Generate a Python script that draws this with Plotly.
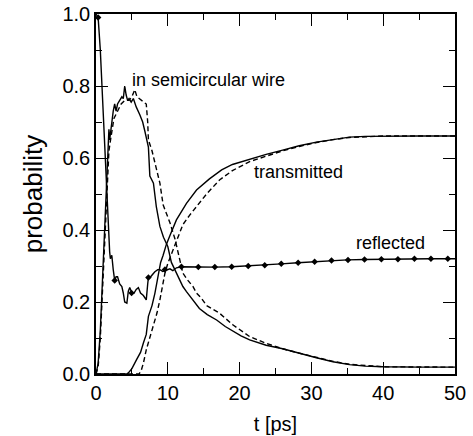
import plotly.graph_objects as go

# ---- data ----
t_wire = [0, 0.3, 0.6, 0.9, 1.2, 1.5, 1.7, 1.8, 1.9, 2.1, 2.4, 2.6, 2.8, 3.0, 3.3, 3.6, 3.8, 4.0,
          4.2, 4.4, 4.6, 4.9, 5.2, 5.6, 6.1, 6.5, 6.8, 7.1, 7.3, 7.5, 7.8, 8.0, 8.4, 8.9, 9.4,
          10.0, 10.5, 11.0, 11.5, 12.1, 12.6, 13.3, 14.4, 15.5, 16.8, 18.0, 19.1, 20.2, 21.4,
          22.5, 23.7, 26.0, 28.3, 30.7, 33.0, 35.3, 37.5, 40.0, 45.0, 50.0]
p_wire = [0.0, 0.03, 0.12, 0.25, 0.38, 0.52, 0.62, 0.68, 0.65, 0.69, 0.73, 0.75, 0.73, 0.75,
          0.76, 0.77, 0.765, 0.80, 0.775, 0.76, 0.765, 0.755, 0.765, 0.742, 0.72, 0.70, 0.675,
          0.65, 0.63, 0.55, 0.54, 0.53, 0.465, 0.41, 0.38, 0.354, 0.31, 0.289, 0.265, 0.243,
          0.229, 0.212, 0.182, 0.165, 0.15, 0.132, 0.118, 0.106, 0.095, 0.087, 0.08, 0.07,
          0.057, 0.045, 0.034, 0.026, 0.022, 0.02, 0.019, 0.019]

t_wire_d = [0, 0.3, 0.6, 0.9, 1.2, 1.5, 1.8, 2.1, 2.5, 3.0, 3.5, 4.0, 4.6, 5.0, 5.4, 5.7, 6.0,
            6.3, 6.7, 7.0, 7.2, 7.3, 7.8, 8.2, 8.9, 9.35, 9.8, 10.3, 11.0, 11.7, 12.1, 12.8,
            13.5, 14.0, 14.7, 15.4, 17.2, 19.1, 21.4, 23.7, 26.0, 28.3, 30.7, 33.0, 35.3, 40.0,
            50.0]
p_wire_d = [0.0, 0.02, 0.1, 0.22, 0.35, 0.48, 0.62, 0.66, 0.71, 0.73, 0.75, 0.76, 0.76, 0.77,
            0.79, 0.77, 0.765, 0.76, 0.755, 0.75, 0.70, 0.65, 0.62, 0.585, 0.53, 0.47, 0.447,
            0.42, 0.375, 0.317, 0.28, 0.26, 0.243, 0.225, 0.21, 0.19, 0.169, 0.136, 0.104,
            0.085, 0.07, 0.058, 0.046, 0.035, 0.027, 0.02, 0.019]

t_trans = [0, 4.3, 4.5, 5.0, 5.65, 6.2, 6.6, 7.0, 7.3, 7.8, 8.2, 8.65, 9.0, 9.35, 9.8, 10.3,
           11.2, 12.6, 14.0, 15.8, 17.5, 19.0, 21.4, 23.7, 26.0, 28.3, 30.7, 33.0, 35.3, 37.5,
           40.0, 45.0, 50.0]
p_trans = [0.0, 0.0, 0.003, 0.015, 0.04, 0.06, 0.086, 0.11, 0.16, 0.19, 0.224, 0.27, 0.31,
           0.33, 0.36, 0.385, 0.428, 0.474, 0.511, 0.542, 0.567, 0.582, 0.597, 0.61, 0.622,
           0.634, 0.644, 0.652, 0.658, 0.66, 0.661, 0.661, 0.661]

t_trans_d = [0, 6.0, 6.3, 6.6, 7.0, 7.5, 8.0, 8.5, 8.9, 9.35, 9.6, 10.0, 10.7, 11.2, 12.1, 13.0,
             14.0, 15.4, 17.2, 19.0, 21.4, 23.7, 26.0, 28.3, 30.7, 33.0, 35.3, 40.0, 50.0]
p_trans_d = [0.0, 0.0, 0.01, 0.03, 0.067, 0.1, 0.14, 0.17, 0.206, 0.26, 0.28, 0.307, 0.344,
             0.372, 0.415, 0.44, 0.465, 0.5, 0.539, 0.565, 0.59, 0.605, 0.62, 0.632, 0.643,
             0.651, 0.657, 0.661, 0.661]

t_refl = [0, 0.3, 0.6, 0.9, 1.2, 1.5, 1.7, 1.9, 2.0, 2.2, 2.4, 2.6, 2.8, 3.0, 3.3, 3.6, 3.8,
          4.0, 4.3, 4.5, 4.7, 5.0, 5.3, 5.6, 5.9, 6.2, 6.6, 7.0, 7.2, 7.3, 7.6, 7.9, 8.2, 8.6,
          8.9, 9.3, 9.9, 10.3, 10.7, 11.2, 11.9, 14.2, 16.5, 18.9, 21.2, 23.5, 25.8, 28.1,
          30.4, 32.7, 35.0, 37.4, 39.7, 42.0, 44.3, 46.6, 50.0]
p_refl = [1.0, 0.99, 0.9, 0.77, 0.63, 0.49, 0.40, 0.34, 0.32, 0.33, 0.29, 0.26, 0.27, 0.27,
          0.25, 0.243, 0.225, 0.20, 0.197, 0.23, 0.24, 0.225, 0.225, 0.235, 0.24, 0.225,
          0.218, 0.206, 0.25, 0.268, 0.27, 0.278, 0.284, 0.29, 0.29, 0.285, 0.29, 0.292,
          0.287, 0.295, 0.298, 0.297, 0.297, 0.298, 0.30, 0.302, 0.306, 0.309, 0.312, 0.315,
          0.317, 0.318, 0.319, 0.319, 0.32, 0.32, 0.32]

t_refl_mk = [0.3, 2.6, 4.95, 7.3, 9.6, 11.9, 14.25, 16.55, 18.9, 21.2, 23.5, 25.8, 28.15,
             30.45, 32.8, 35.1, 37.4, 39.75, 42.05, 44.35, 46.65, 49.0]
p_refl_mk = [0.99, 0.26, 0.225, 0.268, 0.29, 0.298, 0.297, 0.297, 0.298, 0.30, 0.302, 0.306,
             0.309, 0.312, 0.315, 0.317, 0.318, 0.319, 0.319, 0.32, 0.32, 0.32]

labels = ["in semicircular wire", "transmitted", "reflected"]
label_t = [4.7, 21.7, 36.0]
label_p = [0.817, 0.562, 0.364]

x_ticks = [0, 10, 20, 30, 40, 50]
y_ticks = [0.0, 0.2, 0.4, 0.6, 0.8, 1.0]

FONT = "Liberation Sans, Arial, Helvetica, sans-serif"
solid = dict(color="black", width=1.4)
dashed = dict(color="black", width=1.4, dash="5px,3px")

fig = go.Figure()
fig.add_trace(go.Scatter(x=t_wire_d, y=p_wire_d, mode="lines", line=dashed))
fig.add_trace(go.Scatter(x=t_trans_d, y=p_trans_d, mode="lines", line=dashed))
fig.add_trace(go.Scatter(x=t_wire, y=p_wire, mode="lines", line=solid))
fig.add_trace(go.Scatter(x=t_trans, y=p_trans, mode="lines", line=solid))
fig.add_trace(go.Scatter(x=t_refl, y=p_refl, mode="lines", line=solid))
fig.add_trace(go.Scatter(x=t_refl_mk, y=p_refl_mk, mode="markers",
                         marker=dict(symbol="diamond", size=5, color="black")))

for txt, tx, ty in zip(labels, label_t, label_p):
    fig.add_annotation(x=tx, y=ty, text=txt, showarrow=False, xanchor="left",
                       yanchor="middle", font=dict(family=FONT, size=18, color="black"))

axis_common = dict(showline=True, linecolor="black", linewidth=1.5, mirror="ticks",
                   ticks="inside", ticklen=12, tickwidth=1.2, tickcolor="black",
                   showgrid=False, zeroline=False, automargin=False,
                   tickfont=dict(family=FONT, size=20, color="black"))

fig.update_xaxes(range=[0, 50], tickvals=x_ticks, ticktext=[str(v) for v in x_ticks],
                 minor=dict(dtick=5, ticklen=6, ticks="inside", tickcolor="black", tickwidth=1.2),
                 title=dict(text="t [ps]", font=dict(family=FONT, size=20, color="black"),
                            standoff=14),
                 **axis_common)
fig.update_yaxes(range=[0, 1], tickvals=y_ticks, ticktext=[f"{v:.1f}" for v in y_ticks],
                 minor=dict(dtick=0.1, ticklen=6, ticks="inside", tickcolor="black", tickwidth=1.2),
                 title=dict(text="probability", font=dict(family=FONT, size=26, color="black"),
                            standoff=12),
                 **axis_common)

fig.update_layout(width=473, height=436, showlegend=False,
                  margin=dict(l=96, r=18, t=14, b=62),
                  plot_bgcolor="white", paper_bgcolor="white")

fig.write_html("out.html", config={"displayModeBar": False},
               post_script="document.body.style.margin='0px';")
